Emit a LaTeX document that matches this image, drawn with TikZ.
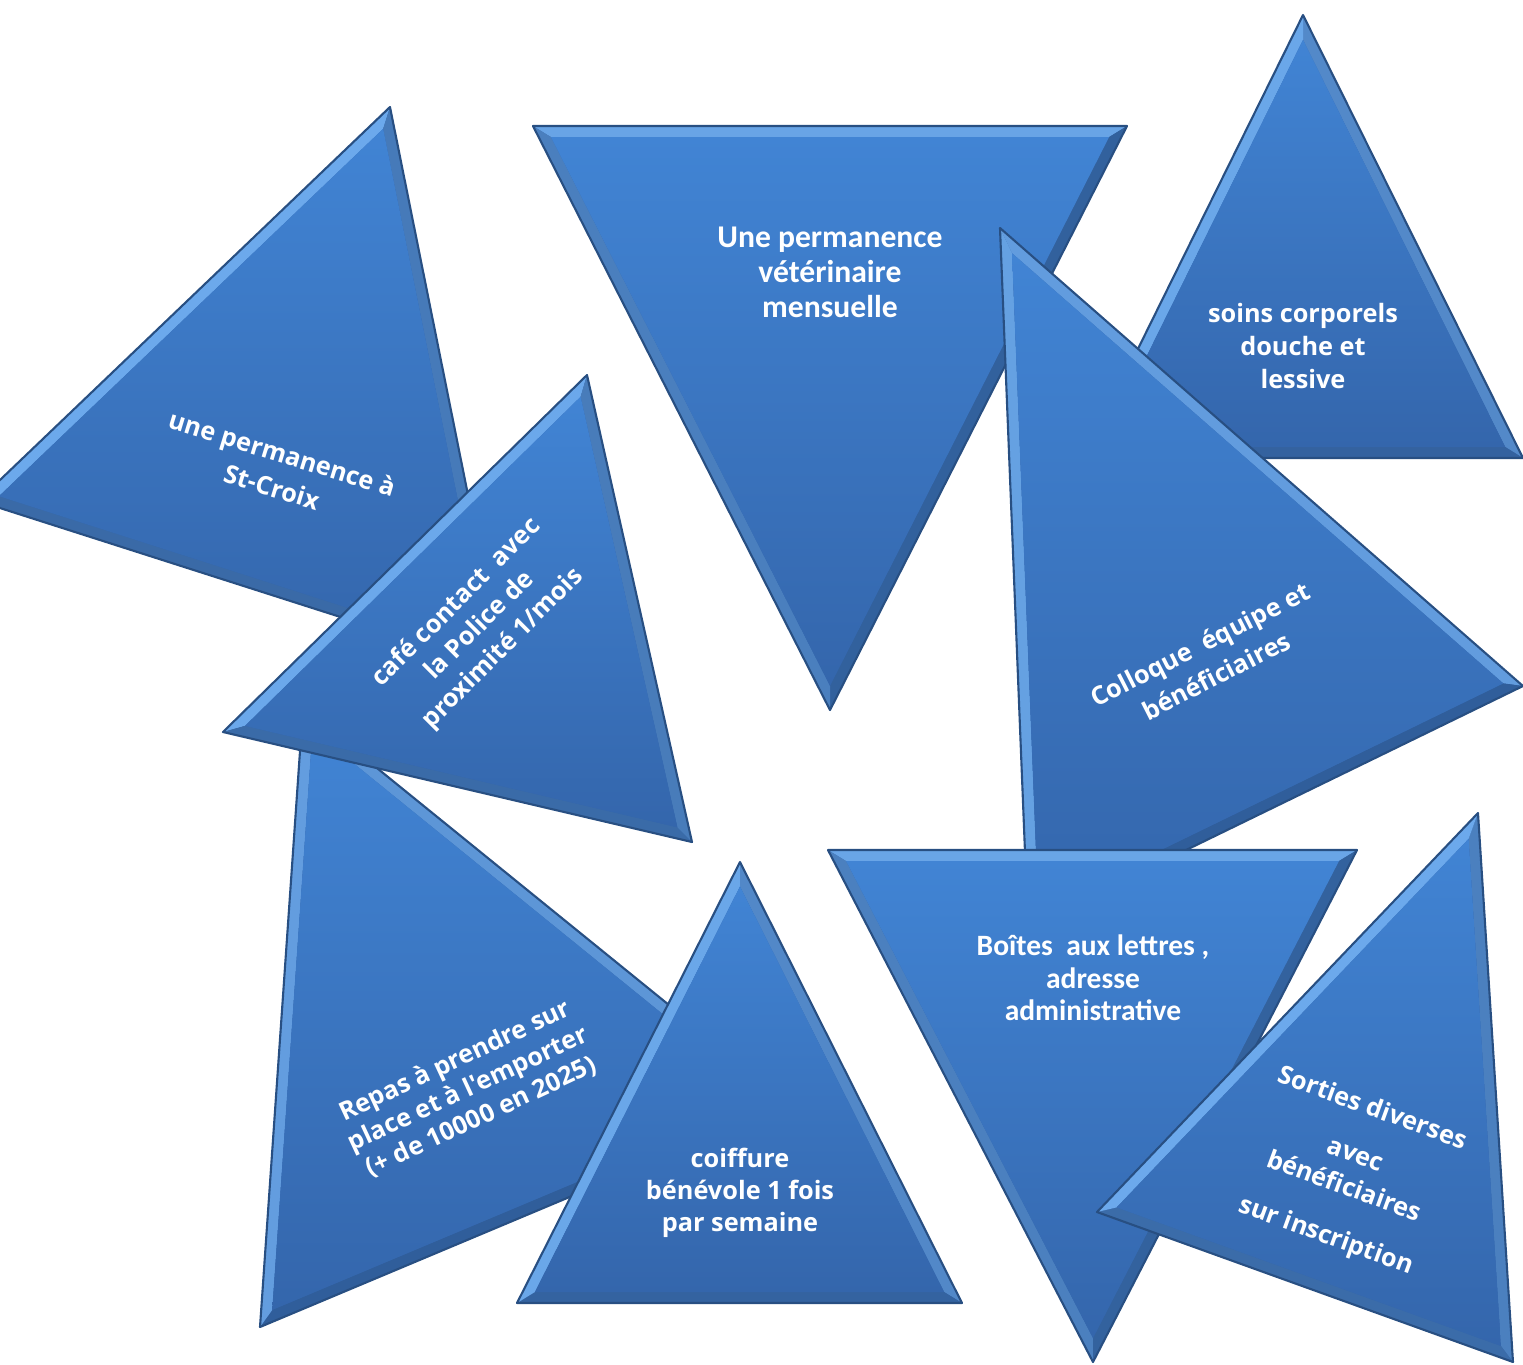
\documentclass[tikz,border=0pt]{standalone}
\usepackage{fontspec}
\usetikzlibrary{calc}
\newfontfamily\opensans{Open Sans}
\newfontfamily\carlito{Carlito}

\definecolor{facetop}{HTML}{4184D4}
\definecolor{facebot}{HTML}{3466AC}
\definecolor{bevlight}{HTML}{70AEF1}
\definecolor{bevdark}{HTML}{2D5A96}
\definecolor{bevline}{HTML}{284F82}

\tikzset{
	lab/.style={text=white, align=center, inner sep=0pt,
		font=\opensans\bfseries\fontsize{7.2}{10}\selectfont},
	labc/.style={text=white, align=center, inner sep=0pt,
		font=\carlito\bfseries\fontsize{9}{10}\selectfont},
	ombra/.style={fill=black, opacity=.18, xshift=1.2pt, yshift=-1.6pt},
	bordo/.style={draw=bevline, line width=.6pt, line join=round}
}

\newcommand{\bevw}{0.11}

% un lato smussato
\newcommand{\bevside}[7]{%
	\pgfmathsetmacro{\tmx}{((#4)+(#6))/2-\tix}%
	\pgfmathsetmacro{\tmy}{((#5)+(#7))/2-\tiy}%
	\pgfmathtruncatemacro{\tpct}{50+45*(-0.5*(\tmx)-0.866*(\tmy))/veclen(\tmx,\tmy)}%
	\colorlet{bevtmp}{bevlight!\tpct!bevdark}%
	\fill[bevtmp] (#1-#2) -- (#1-#3) -- (#1-i#3) -- (#1-i#2) -- cycle;
}

% triangolo con bordo smussato
\newcommand{\bevtri}[7]{%
	\pgfmathsetmacro{\tla}{veclen((#6)-(#4),(#7)-(#5))}%
	\pgfmathsetmacro{\tlb}{veclen((#6)-(#2),(#7)-(#3))}%
	\pgfmathsetmacro{\tlc}{veclen((#4)-(#2),(#5)-(#3))}%
	\pgfmathsetmacro{\tper}{\tla+\tlb+\tlc}%
	\pgfmathsetmacro{\tix}{(\tla*(#2)+\tlb*(#4)+\tlc*(#6))/\tper}%
	\pgfmathsetmacro{\tiy}{(\tla*(#3)+\tlb*(#5)+\tlc*(#7))/\tper}%
	\pgfmathsetmacro{\trin}{abs(((#4)-(#2))*((#7)-(#3))-((#6)-(#2))*((#5)-(#3)))/\tper}%
	\pgfmathsetmacro{\tkin}{1-\bevw/\trin}%
	\coordinate (#1-a) at (#2,#3);
	\coordinate (#1-b) at (#4,#5);
	\coordinate (#1-c) at (#6,#7);
	\coordinate (#1-i) at (\tix,\tiy);
	\coordinate (#1-ia) at ($(#1-i)!\tkin!(#1-a)$);
	\coordinate (#1-ib) at ($(#1-i)!\tkin!(#1-b)$);
	\coordinate (#1-ic) at ($(#1-i)!\tkin!(#1-c)$);
	\fill[ombra] (#1-a) -- (#1-b) -- (#1-c) -- cycle;
	\fill[facebot] (#1-a) -- (#1-b) -- (#1-c) -- cycle;
	\bevside{#1}{a}{b}{#2}{#3}{#4}{#5}
	\bevside{#1}{b}{c}{#4}{#5}{#6}{#7}
	\bevside{#1}{c}{a}{#6}{#7}{#2}{#3}
	\shade[top color=facetop, bottom color=facebot] (#1-ia) -- (#1-ib) -- (#1-ic) -- cycle;
	\draw[bordo] (#1-a) -- (#1-b) -- (#1-c) -- cycle;
}

\begin{document}
\begin{tikzpicture}[x=1cm, y=-1cm]
	\useasboundingbox (0,0) rectangle (15.23,13.64);
	
	%triangoli e testi
	\bevtri{stcroix}{3.90}{1.07}{-0.22}{5.01}{5.03}{6.69}
	\node[lab, rotate=-17] (tstcroix) at (2.77,4.70) {une permanence à\\St-Croix};
	
	\bevtri{veto}{5.33}{1.26}{11.27}{1.26}{8.30}{7.10}
	\node[labc] (tveto) at (8.30,2.72) {Une permanence\\vétérinaire\\mensuelle};
	
	\bevtri{soins}{13.03}{0.15}{15.23}{4.58}{10.84}{4.58}
	\node[lab, font=\opensans\bfseries\fontsize{7.2}{9.5}\selectfont] (tsoins) at (13.03,3.46) {soins corporels\\douche et\\lessive};
	
	\bevtri{colloque}{10.00}{2.28}{15.23}{6.86}{10.28}{9.27}
	\node[lab, rotate=27] (tcolloque) at (12.08,6.60) {Colloque\ \ équipe et\\bénéficiaires};
	
	\bevtri{repas}{3.03}{7.08}{7.91}{11.04}{2.60}{13.27}
	\node[lab, rotate=25, font=\opensans\bfseries\fontsize{7.2}{8.8}\selectfont] (trepas) at (4.68,10.89) {Repas à prendre sur\\place et à l'emporter\\(+ de 10000 en 2025)};
	
	\bevtri{cafe}{5.87}{3.75}{2.23}{7.32}{6.92}{8.42}
	\node[lab, rotate=45, font=\opensans\bfseries\fontsize{7.2}{9.3}\selectfont] (tcafe) at (4.80,6.26) {café contact\ \ avec\\la Police de\\proximité 1/mois};
	
	\bevtri{coiffure}{7.40}{8.62}{9.62}{13.03}{5.17}{13.03}
	\node[lab, font=\opensans\bfseries\fontsize{7.2}{9.1}\selectfont] (tcoiffure) at (7.40,11.93) {coiffure\\bénévole 1 fois\\par semaine};
	
	\bevtri{boites}{8.28}{8.50}{13.57}{8.50}{10.93}{13.62}
	\node[labc, font=\carlito\bfseries\fontsize{8.4}{9.2}\selectfont] (tboites) at (10.93,9.78) {Boîtes\ \ aux lettres ,\\adresse\\administrative};
	
	\bevtri{sorties}{14.78}{8.13}{15.13}{13.62}{10.97}{12.12}
	\node[lab, rotate=-20, font=\opensans\bfseries\fontsize{7.2}{9.5}\selectfont] (tsorties) at (13.49,11.73) {Sorties diverses\\[4.7pt]avec\\bénéficiaires\\[5.3pt]sur inscription};
	
\end{tikzpicture}
\end{document}
